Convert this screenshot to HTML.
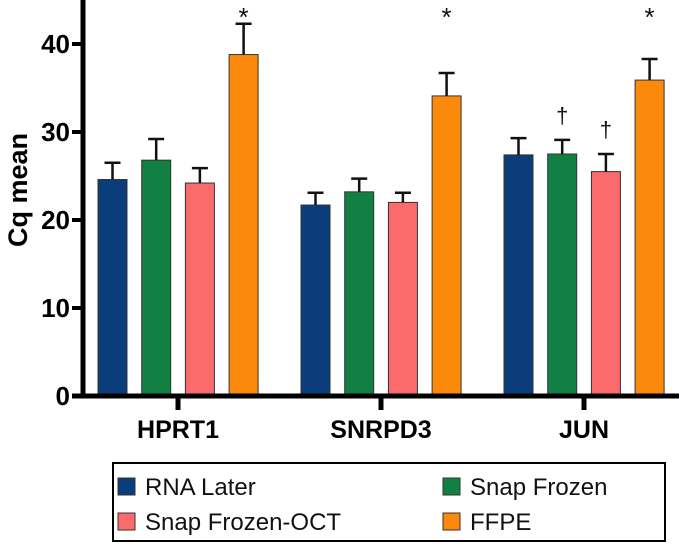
<!DOCTYPE html>
<html><head><meta charset="utf-8"><style>
body{margin:0;background:#fff;width:685px;height:552px;overflow:hidden}
text{font-family:"Liberation Sans",sans-serif}
</style></head><body>
<svg id="chart" width="685" height="552" xmlns="http://www.w3.org/2000/svg"></svg>
<script>
const categories=["HPRT1","SNRPD3","JUN"];
const seriesNames=["RNA Later","Snap Frozen","Snap Frozen-OCT","FFPE"];
const rnaLater=[24.6,21.7,27.4];
const snapFrozen=[26.8,23.2,27.5];
const snapOCT=[24.2,22.0,25.5];
const ffpe=[38.8,34.1,35.9];
const rnaLaterErr=[1.9,1.4,1.9];
const snapFrozenErr=[2.4,1.5,1.6];
const snapOCTErr=[1.7,1.1,2.0];
const ffpeErr=[3.5,2.6,2.4];
const marks=[["","",""],["","","†"],["","","†"],["*","*","*"]];
const yTicks=[0,10,20,30,40];
const colors=["#0b3d7a","#138043","#fb6b6b","#fb8a0c"];
const svg=document.getElementById('chart');
const NS="http://www.w3.org/2000/svg";
function mk(t,a,p){const e=document.createElementNS(NS,t);for(const k in a)e.setAttribute(k,a[k]);(p||svg).appendChild(e);return e;}
const y0=396,pxPer=8.8;
const y=v=>y0-v*pxPer;
const groupCenter=i=>178+i*203;
const barX=(g,s)=>groupCenter(g)-80+s*43.7;
const bw=29;
const vals=[rnaLater,snapFrozen,snapOCT,ffpe];
const errs=[rnaLaterErr,snapFrozenErr,snapOCTErr,ffpeErr];
for(let g=0;g<categories.length;g++){
 for(let s=0;s<4;s++){
  const v=vals[s][g],e=errs[s][g],x=barX(g,s),cx=x+bw/2;
  let r=mk('rect',{x:x,y:y(v),width:bw,height:y0-y(v),fill:colors[s],stroke:'#333','stroke-width':1});
  
  
  let l=mk('path',{d:`M${cx},${y(v)}V${y(v+e)}M${cx-8},${y(v+e)}H${cx+8}`,stroke:'#111','stroke-width':2.5,fill:'none'});
  
  
  if(marks[s][g]){
   const star=marks[s][g]=='*';
   let t=mk('text',{x:cx,y:star?26:y(v+e)-17,'text-anchor':'middle','font-size':star?26:22,fill:'#111'});
   t.textContent=marks[s][g];
   
   
  }
 }
 let t=mk('text',{x:groupCenter(g),y:438,'text-anchor':'middle','font-size':25,'font-weight':'bold'});
 t.textContent=categories[g];
 
 
 let tk=mk('line',{x1:groupCenter(g),x2:groupCenter(g),y1:y0,y2:410,stroke:'#000','stroke-width':5});
 
 
}
let ax=mk('path',{d:`M83,0V${y0+2}M72,${y0}H679`,stroke:'#000','stroke-width':5,fill:'none'});


for(const v of yTicks){
 let l=mk('line',{x1:72,x2:83,y1:y(v),y2:y(v),stroke:'#000','stroke-width':4});
 
 
 let t=mk('text',{x:70,y:y(v)+9,'text-anchor':'end','font-size':26,'font-weight':'bold'});
 t.textContent=v;
 
 
}
let yt=mk('text',{x:0,y:0,transform:'translate(27,190) rotate(-90)','text-anchor':'middle','font-size':27,'font-weight':'bold'});
yt.textContent='Cq mean';


let lg=mk('rect',{x:113,y:463,width:552,height:78,fill:'#fff',stroke:'#000','stroke-width':2});


const lpos=[[118,487],[443,487],[118,522],[443,522]];
for(let s=0;s<4;s++){
 const [lx,ly]=lpos[s];
 let r=mk('rect',{x:lx,y:ly-9,width:17,height:17,fill:colors[s],stroke:'#333','stroke-width':1});
 
 
 let t=mk('text',{x:lx+27,y:ly+8,'font-size':24,fill:'#111'});
 t.textContent=seriesNames[s];
 
 
}
</script>
</body></html>
